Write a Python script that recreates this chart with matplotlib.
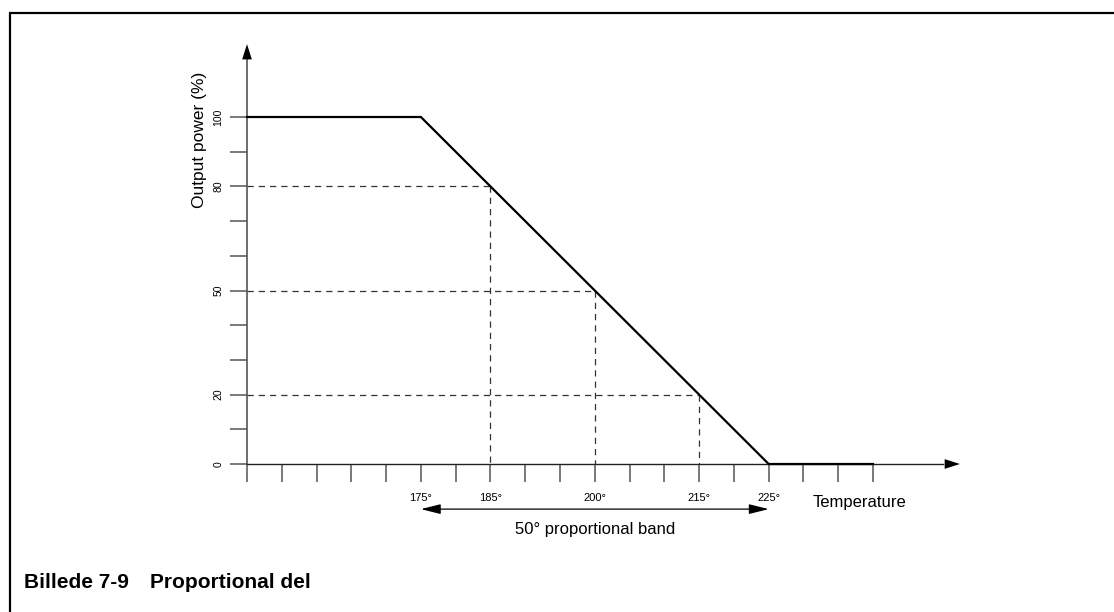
import matplotlib.pyplot as plt
from matplotlib.lines import Line2D

# control characteristic
temp = [150, 175, 225, 240]
power = [100, 100, 0, 0]

# dashed reference points (temperature, power)
ref_temp = [185, 200, 215]
ref_power = [80, 50, 20]

xticks = list(range(150, 241, 5))
xlabels = {175: "175°", 185: "185°", 200: "200°", 215: "215°", 225: "225°"}
yticks = list(range(0, 101, 10))
ylabels = {0: "0", 20: "20", 50: "50", 80: "80", 100: "100"}

band = (175, 225)
band_label = "50° proportional band"

W, H = 1114, 612
fig = plt.figure(figsize=(W / 100, H / 100), dpi=100)
plt.rcParams['font.family'] = ['Liberation Sans', 'DejaVu Sans']

# axes placed so 150..240 -> px 247..873, 0..100 -> px 464..117
x0, y0 = 247, 464
xw, yh = 626, 347
ax = fig.add_axes([x0 / W, (H - y0) / H, xw / W, yh / H])
ax.set_xlim(150, 240)
ax.set_ylim(0, 100)
ax.patch.set_visible(False)
for s in ax.spines.values():
    s.set_visible(False)

grey = "#555555"

# axes lines with arrow heads
ax.plot([150, 150], [0, 118], color=grey, lw=1.2, clip_on=False)
ax.annotate("", xy=(150, 121), xytext=(150, 112),
            arrowprops=dict(arrowstyle="-|>,head_length=1.1,head_width=0.35",
                            color="black", lw=0, shrinkA=0, shrinkB=0),
            annotation_clip=False)
ax.plot([150, 250], [0, 0], color="#222222", lw=1.0, clip_on=False)
ax.annotate("", xy=(252.5, 0), xytext=(246, 0),
            arrowprops=dict(arrowstyle="-|>,head_length=1.1,head_width=0.35",
                            color="black", lw=0, shrinkA=0, shrinkB=0),
            annotation_clip=False)

# ticks
ax.set_xticks(xticks)
ax.set_xticklabels([xlabels.get(t, "") for t in xticks], fontsize=8)
ax.set_yticks(yticks)
ax.set_yticklabels([ylabels.get(t, "") for t in yticks], fontsize=7.5,
                   rotation=90, va="center")
ax.tick_params(axis="x", direction="out", length=13, width=1.1, color=grey, pad=8)
ax.tick_params(axis="y", direction="out", length=12, width=1.1, color=grey, pad=5)

# dashed guides
for t, p in zip(ref_temp, ref_power):
    ax.plot([150, t], [p, p], color="#333333", lw=0.9, dashes=(5, 4), clip_on=False)
    ax.plot([t, t], [p, 0], color="#333333", lw=0.9, dashes=(5, 4), clip_on=False)

# characteristic line
ax.plot(temp, power, color="black", lw=1.6, clip_on=False, solid_joinstyle="miter")

# proportional band arrow
ax.annotate("", xy=(band[1], -13), xytext=(band[0], -13),
            arrowprops=dict(arrowstyle="<|-|>,head_length=1.2,head_width=0.3",
                            color="black", lw=0.9, shrinkA=0, shrinkB=0),
            annotation_clip=False)
ax.text((band[0] + band[1]) / 2, -18.8, band_label, ha="center", va="center",
        fontsize=12)
ax.text(231.3, -11, "Temperature", ha="left", va="center", fontsize=12)

ax.text(143.1, 113, "Output power (%)", rotation=90, ha="center", va="top",
        fontsize=12.5)

# frame around the figure
fig.add_artist(Line2D([10 / W, 10 / W], [0, 1 - 13 / H], color="black", lw=1.6,
                      transform=fig.transFigure, solid_capstyle="butt"))
fig.add_artist(Line2D([9.2 / W, 1], [1 - 13 / H, 1 - 13 / H], color="black", lw=1.6,
                      transform=fig.transFigure, solid_capstyle="butt"))

# caption
fig.text(24 / W, 1 - 583 / H, "Billede 7-9", fontsize=15, fontweight="bold",
         va="center", ha="left")
fig.text(150 / W, 1 - 583 / H, "Proportional del", fontsize=15, fontweight="bold",
         va="center", ha="left")

fig.savefig("out.png", dpi=100)
